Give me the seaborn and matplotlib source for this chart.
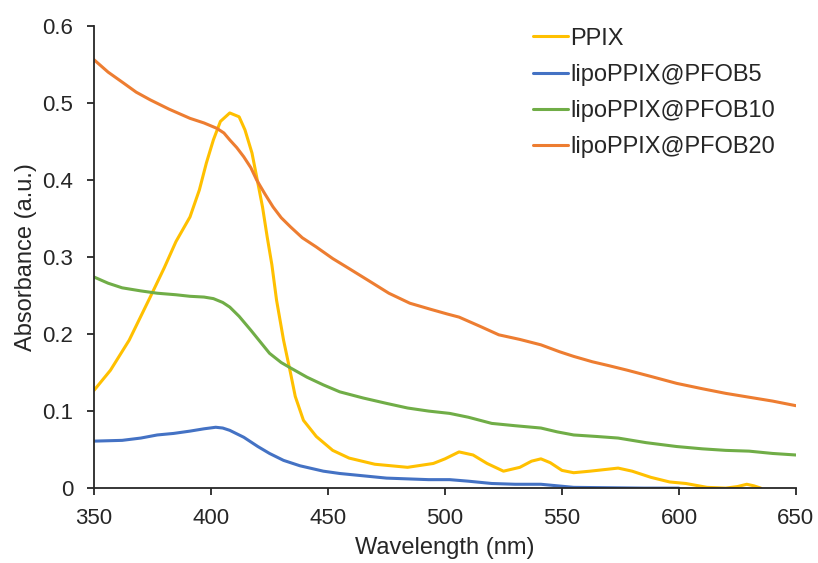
import matplotlib
matplotlib.use("Agg")
import matplotlib.pyplot as plt
import pandas as pd
import seaborn as sns

# spectra
ppix_wl = [350, 357, 365, 374, 380, 385, 391, 395, 398, 401, 404, 408, 412, 414.5, 417.5,
           419.5, 422, 424, 426, 428, 431, 434, 436, 439.5, 445, 452, 459, 470, 484, 495,
           500, 506, 512, 518, 525, 532, 537, 541, 545, 550, 555, 562, 568, 574, 580, 588,
           596, 603, 612, 620, 625, 629, 632, 635]
ppix_abs = [0.127, 0.153, 0.192, 0.248, 0.286, 0.32, 0.352, 0.387, 0.422, 0.452, 0.476,
            0.487, 0.482, 0.465, 0.435, 0.404, 0.365, 0.326, 0.29, 0.244, 0.192, 0.149,
            0.119, 0.088, 0.067, 0.049, 0.039, 0.031, 0.027, 0.032, 0.038, 0.047, 0.043,
            0.032, 0.022, 0.027, 0.035, 0.038, 0.033, 0.023, 0.02, 0.022, 0.024, 0.026,
            0.022, 0.014, 0.008, 0.006, 0.001, 0.0, 0.002, 0.005, 0.003, 0.0]

pfob5_wl = [350, 362, 370, 377, 384, 391, 397, 402, 405, 408, 414, 420, 425, 431, 438,
            448, 455, 465, 475, 484, 493, 502, 510, 520, 530, 541, 548, 555, 570, 585, 600]
pfob5_abs = [0.061, 0.062, 0.065, 0.069, 0.071, 0.074, 0.077, 0.079, 0.078, 0.075,
             0.066, 0.054, 0.045, 0.036, 0.029, 0.022, 0.019, 0.016, 0.013, 0.012,
             0.011, 0.011, 0.009, 0.006, 0.005, 0.005, 0.003, 0.001, 0.0005, 0.0, 0.0]

pfob10_wl = [350, 356, 362, 370, 377, 385, 391, 397, 401, 405, 408, 412, 417, 421, 425,
             430, 434, 441, 448, 455, 465, 475, 484, 493, 502, 510, 520, 530, 541, 548,
             555, 565, 574, 586, 599, 610, 620, 630, 640, 650]
pfob10_abs = [0.274, 0.266, 0.26, 0.256, 0.253, 0.251, 0.249, 0.248, 0.246, 0.241,
              0.235, 0.223, 0.205, 0.19, 0.175, 0.163, 0.156, 0.144, 0.134, 0.125,
              0.117, 0.11, 0.104, 0.1, 0.097, 0.092, 0.084, 0.081, 0.078, 0.073,
              0.069, 0.067, 0.065, 0.059, 0.054, 0.051, 0.049, 0.048, 0.045, 0.043]

pfob20_wl = [350, 356, 362.5, 368, 374, 382, 391, 397, 402.5, 405.5, 408, 411, 414, 417,
             419.5, 423, 426.5, 430, 434, 439, 445, 452, 459, 467, 476, 485, 494, 501,
             506, 515, 523, 532, 541, 549, 555, 563, 570, 578, 588, 599, 610, 620, 630,
             640, 650]
pfob20_abs = [0.556, 0.54, 0.526, 0.514, 0.504, 0.492, 0.48, 0.474, 0.467, 0.461, 0.452,
              0.442, 0.43, 0.416, 0.4, 0.382, 0.365, 0.351, 0.339, 0.325, 0.313, 0.298,
              0.285, 0.27, 0.253, 0.24, 0.232, 0.226, 0.222, 0.21, 0.199, 0.193, 0.186,
              0.177, 0.171, 0.164, 0.159, 0.153, 0.145, 0.136, 0.129, 0.123, 0.118,
              0.113, 0.107]

series = ["PPIX", "lipoPPIX@PFOB5", "lipoPPIX@PFOB10", "lipoPPIX@PFOB20"]
colors = ["#FFC000", "#4472C4", "#70AD47", "#ED7D31"]

frames = []
for name, wl, ab in zip(series,
                        [ppix_wl, pfob5_wl, pfob10_wl, pfob20_wl],
                        [ppix_abs, pfob5_abs, pfob10_abs, pfob20_abs]):
    frames.append(pd.DataFrame({"wl": wl, "abs": ab, "sample": name}))
df = pd.concat(frames, ignore_index=True)

sns.set_style("ticks")
plt.rcParams["font.family"] = ["Liberation Sans", "DejaVu Sans"]

fig = plt.figure(figsize=(8.18, 5.63), dpi=100)
ax = fig.add_axes([0.115, 0.133, 0.858, 0.821])

sns.lineplot(data=df, x="wl", y="abs", hue="sample", hue_order=series,
             palette=colors, linewidth=2.2, sort=False, estimator=None, ax=ax)

ax.set_xlim(350, 650)
ax.set_ylim(0, 0.6)
ax.set_xticks([350, 400, 450, 500, 550, 600, 650])
ax.set_yticks([0, 0.1, 0.2, 0.3, 0.4, 0.5, 0.6])
ax.set_yticklabels(["0", "0.1", "0.2", "0.3", "0.4", "0.5", "0.6"])
ax.set_xlabel("Wavelength (nm)", fontsize=17, labelpad=6)
ax.set_ylabel("Absorbance (a.u.)", fontsize=17, labelpad=4)
ax.tick_params(labelsize=16, direction="out", length=5, width=1.3, color="#262626")
ax.tick_params(axis="x", pad=9)
ax.tick_params(axis="y", pad=10)
for side in ["left", "bottom"]:
    ax.spines[side].set_linewidth(1.3)
    ax.spines[side].set_color("#262626")
sns.despine(ax=ax)

ax.legend(loc="upper left", bbox_to_anchor=(0.625, 0.996), frameon=False,
          borderaxespad=0, borderpad=0, fontsize=17, handlelength=1.5,
          handletextpad=0.08, labelspacing=0.6)

fig.savefig("out.png", dpi=100)
